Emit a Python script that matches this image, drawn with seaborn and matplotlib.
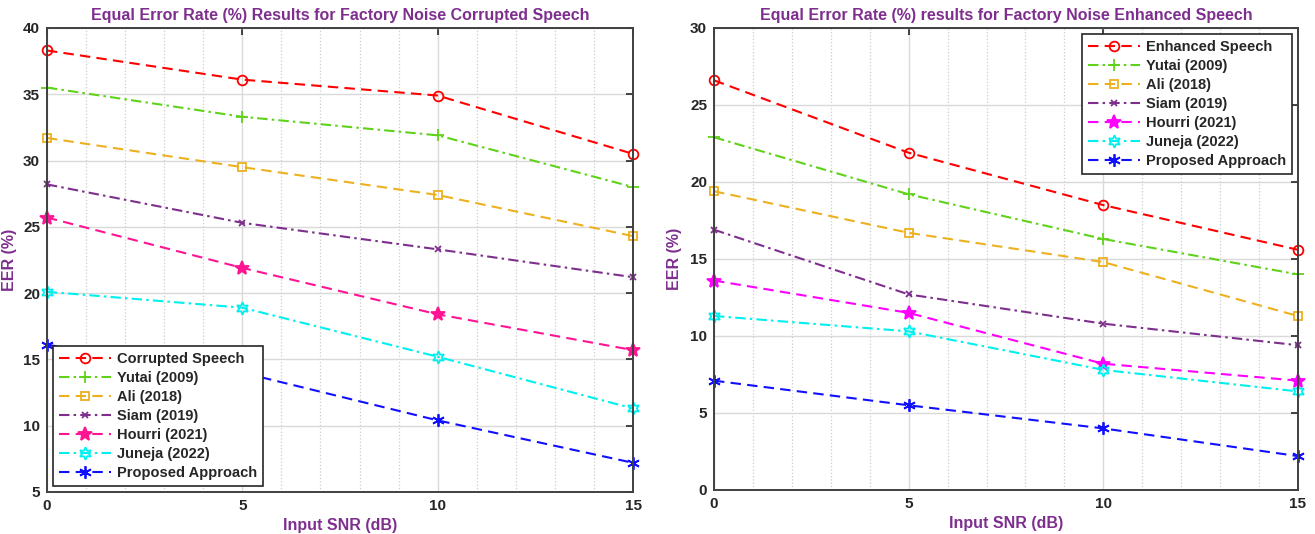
import numpy as np
import pandas as pd
import matplotlib
matplotlib.use("Agg")
import matplotlib.pyplot as plt
import seaborn as sns
from matplotlib.ticker import MultipleLocator

snr = [0, 5, 10, 15]

# corrupted speech panel
corrupted = [38.3, 36.1, 34.9, 30.5]
yutai_c = [35.5, 33.3, 31.9, 28.0]
ali_c = [31.7, 29.5, 27.4, 24.3]
siam_c = [28.2, 25.3, 23.3, 21.2]
hourri_c = [25.7, 21.9, 18.4, 15.7]
juneja_c = [20.1, 18.9, 15.2, 11.3]
proposed_c = [16.1, 14.0, 10.4, 7.2]

# enhanced speech panel
enhanced = [26.6, 21.9, 18.5, 15.6]
yutai_e = [22.9, 19.2, 16.3, 14.0]
ali_e = [19.4, 16.7, 14.8, 11.3]
siam_e = [16.9, 12.7, 10.8, 9.4]
hourri_e = [13.6, 11.5, 8.2, 7.1]
juneja_e = [11.3, 10.3, 7.8, 6.4]
proposed_e = [7.1, 5.5, 4.0, 2.2]

method_names = ["Yutai (2009)", "Ali (2018)", "Siam (2019)", "Hourri (2021)",
                "Juneja (2022)", "Proposed Approach"]

sns.set_style("white")
plt.rcParams['font.family'] = ['Liberation Sans', 'DejaVu Sans']

purple = "#7E2F8E"
dash = (5, 3)
dashdot = (5, 2, 1.2, 2)

# (color, marker, dashes, filled, markersize)
styles_c = [("#FF0000", "o", dash, False, 7),
            ("#5FD31A", "+", dashdot, True, 8),
            ("#EDB120", "s", dash, False, 6),
            ("#7E2F8E", "x", dashdot, True, 5),
            ("#FF1493", "*", dash, True, 10),
            ("#00F0F0", (6, 1, 0), dashdot, False, 9),
            ("#1010FF", (6, 2, 0), dash, True, 9)]
styles_e = list(styles_c)
styles_e[4] = ("#FF00FF", "*", dash, True, 10)

fig = plt.figure(figsize=(13.15, 5.34), dpi=100)
ax1 = fig.add_axes([0.0357, 0.0787, 0.4457, 0.869])
ax2 = fig.add_axes([0.543, 0.0824, 0.444, 0.8652])

panels = [
    (ax1, [corrupted, yutai_c, ali_c, siam_c, hourri_c, juneja_c, proposed_c],
     ["Corrupted Speech"] + method_names, styles_c,
     "Equal Error Rate (%) Results for Factory Noise Corrupted Speech",
     (5, 40), "lower left"),
    (ax2, [enhanced, yutai_e, ali_e, siam_e, hourri_e, juneja_e, proposed_e],
     ["Enhanced Speech"] + method_names, styles_e,
     "Equal Error Rate (%) results for Factory Noise Enhanced Speech",
     (0, 30), "upper right"),
]

for ax, series, names, styles, title, ylim, loc in panels:
    for vals, name, (col, mk, ds, filled, ms) in zip(series, names, styles):
        df = pd.DataFrame({"snr": snr, "eer": vals})
        sns.lineplot(data=df, x="snr", y="eer", ax=ax, color=col, label=name,
                     marker=mk, markersize=ms, linewidth=1.5, clip_on=False,
                     markerfacecolor=col if filled else "none",
                     markeredgecolor=col, markeredgewidth=1.3, zorder=3)
        ax.lines[-1].set_dashes(ds)
    ax.set_xlim(0, 15)
    ax.set_ylim(*ylim)
    ax.xaxis.set_major_locator(MultipleLocator(5))
    ax.xaxis.set_minor_locator(MultipleLocator(1))
    ax.yaxis.set_major_locator(MultipleLocator(5))
    ax.grid(which="major", color="#d9d9d9", linewidth=1.0)
    ax.grid(which="minor", axis="x", color="#cccccc", linestyle=":", linewidth=0.9)
    ax.tick_params(direction="in", top=True, right=True, labelsize=11,
                   length=5, width=1.2, colors="#262626", pad=5)
    ax.tick_params(which="minor", length=0)
    for lab in ax.get_xticklabels() + ax.get_yticklabels():
        lab.set_fontweight("bold")
    for sp in ax.spines.values():
        sp.set_color("#404040")
        sp.set_linewidth(1.4)
        sp.set_zorder(4)
    ax.set_title(title, color=purple, fontweight="bold", fontsize=11.5, pad=6)
    ax.set_xlabel("Input SNR (dB)", color=purple, fontweight="bold", fontsize=11.5)
    ax.set_ylabel("EER (%)", color=purple, fontweight="bold", fontsize=11.5)
    leg = ax.legend(loc=loc, fancybox=False, framealpha=1, edgecolor="#262626",
                    prop={"weight": "bold", "size": 10.5}, handlelength=3.6,
                    labelspacing=0.35, borderaxespad=0.4, handletextpad=0.4)
    leg.get_frame().set_linewidth(1.2)
    leg.set_zorder(5)

ax1.yaxis.labelpad = 4
ax2.yaxis.labelpad = 6

fig.savefig("out.png", dpi=100)
